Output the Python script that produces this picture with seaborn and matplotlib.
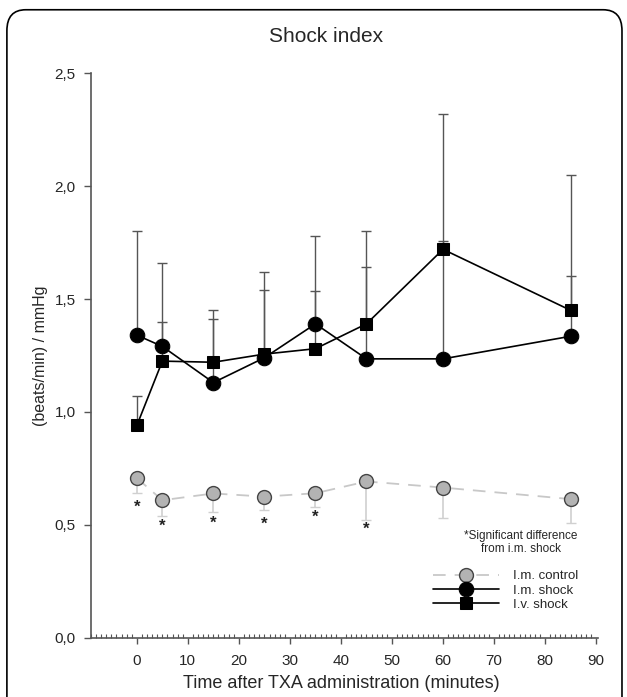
import numpy as np
import matplotlib
matplotlib.use('Agg')
import matplotlib.pyplot as plt
from matplotlib.patches import FancyBboxPatch
from matplotlib.ticker import FuncFormatter, MultipleLocator
import seaborn as sns

# Tempo após TXA (minutos)
time_min = [0, 5, 15, 25, 35, 45, 60, 85]

# Médias por grupo
im_control = [0.707, 0.609, 0.639, 0.625, 0.640, 0.692, 0.665, 0.614]
im_shock = [1.34, 1.29, 1.13, 1.24, 1.39, 1.235, 1.235, 1.335]
iv_shock = [0.94, 1.225, 1.22, 1.256, 1.28, 1.39, 1.72, 1.45]

# Limites das barras de erro (SD)
im_control_low = [0.643, 0.540, 0.556, 0.565, 0.581, 0.522, 0.532, 0.510]
im_shock_high = [1.80, 1.66, 1.45, 1.54, 1.78, 1.64, 2.32, 1.60]
iv_shock_high = [1.07, 1.40, 1.41, 1.62, 1.535, 1.80, 1.757, 2.05]

# Asteriscos de significância
star_time = [0, 5, 15, 25, 35, 45]
star_y = [0.588, 0.504, 0.518, 0.513, 0.544, 0.491]

sns.set_style('ticks')
plt.rcParams['font.family'] = ['Liberation Sans', 'DejaVu Sans']

fig = plt.figure(figsize=(6.27, 6.97), dpi=100)
ax = fig.add_axes([0.145, 0.085, 0.809, 0.81])

# Moldura arredondada
border = FancyBboxPatch((0.011, -0.05), 0.981, 1.036, boxstyle='round,pad=0,rounding_size=0.03',
                        transform=fig.transFigure, fill=False, edgecolor='black', linewidth=1.2,
                        clip_on=False)
fig.patches.append(border)

x = np.array(time_min)

# Barras de erro
ax.errorbar(x, im_control, yerr=[np.array(im_control) - np.array(im_control_low), np.zeros(len(x))],
            fmt='none', ecolor='#d0d0d0', elinewidth=1.2, capsize=3.5, zorder=1)
ax.errorbar(x, im_shock, yerr=[np.zeros(len(x)), np.array(im_shock_high) - np.array(im_shock)],
            fmt='none', ecolor='#555555', elinewidth=1, capsize=3.5, zorder=1)
ax.errorbar(x, iv_shock, yerr=[np.zeros(len(x)), np.array(iv_shock_high) - np.array(iv_shock)],
            fmt='none', ecolor='#555555', elinewidth=1, capsize=3.5, zorder=1)

# Linhas
sns.lineplot(x=time_min, y=im_control, ax=ax, color='#c8c8c8', linestyle=(0, (7, 5)), linewidth=1.3,
             marker='o', markersize=10, markerfacecolor='#b3b3b3', markeredgecolor='#444444',
             markeredgewidth=1, label='I.m. control', zorder=3)
sns.lineplot(x=time_min, y=im_shock, ax=ax, color='black', linewidth=1.2,
             marker='o', markersize=10.5, markerfacecolor='black', markeredgecolor='black',
             label='I.m. shock', zorder=3)
sns.lineplot(x=time_min, y=iv_shock, ax=ax, color='black', linewidth=1.2,
             marker='s', markersize=9, markerfacecolor='black', markeredgecolor='black',
             label='I.v. shock', zorder=3)

for t, yv in zip(star_time, star_y):
    ax.text(t, yv - 0.012, '*', ha='center', va='center', fontsize=12, fontweight='bold',
            color='#222222')

ax.text(75.2, 0.42, '*Significant difference\nfrom i.m. shock', ha='center', va='center',
        fontsize=8.5, linespacing=1.1)

ax.set_xlim(-9, 90.4)
ax.set_ylim(0, 2.5)
ax.xaxis.set_major_locator(MultipleLocator(10))
ax.xaxis.set_minor_locator(MultipleLocator(1))
ax.yaxis.set_major_locator(MultipleLocator(0.5))
ax.yaxis.set_major_formatter(FuncFormatter(lambda v, p: f'{v:.1f}'.replace('.', ',')))
ax.set_xticks(range(0, 91, 10))

ax.tick_params(axis='x', which='major', direction='out', length=4, width=1, color='#555555',
               labelsize=11, pad=8)
ax.tick_params(axis='x', which='minor', direction='in', length=3, width=0.8, color='#555555')
ax.tick_params(axis='y', which='major', direction='out', length=5, width=1, color='#555555',
               labelsize=11, pad=6)

for side in ['top', 'right']:
    ax.spines[side].set_visible(False)
for side in ['left', 'bottom']:
    ax.spines[side].set_color('#555555')
    ax.spines[side].set_linewidth(1.2)

ax.set_xlabel('')
ax.set_ylabel('')
fig.text(0.064, 0.49, '(beats/min) / mmHg', rotation=90, ha='center', va='center', fontsize=11.5)
fig.text(0.545, 0.02, 'Time after TXA administration (minutes)', ha='center', va='center', fontsize=13)
fig.text(0.52, 0.947, 'Shock index', ha='center', va='center', fontsize=15)

ax.legend(loc='upper left', bbox_to_anchor=(0.69, 0.182), bbox_transform=fig.transFigure,
          frameon=False, fontsize=9.5, handlelength=5, handletextpad=1.1, labelspacing=0.15,
          borderpad=0, borderaxespad=0)

fig.savefig('out.png', dpi=100)
